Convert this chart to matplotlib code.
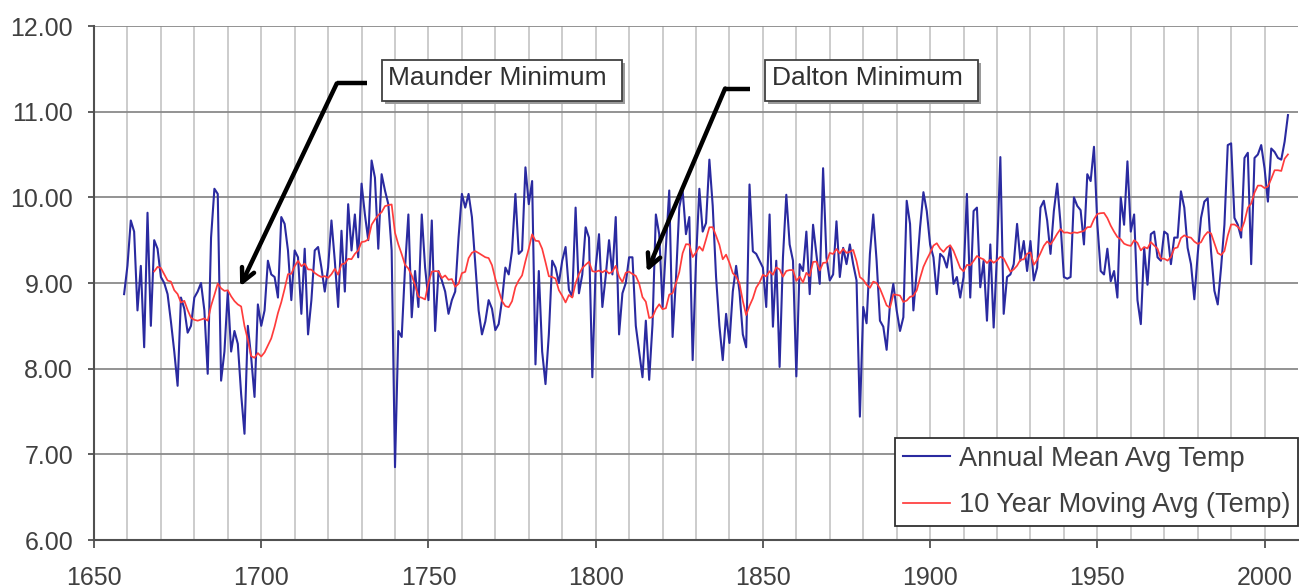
import numpy as np
import pandas as pd
import matplotlib
matplotlib.use("Agg")
import matplotlib.pyplot as plt
import matplotlib.transforms as mtransforms
from matplotlib.patches import Rectangle

plt.rcParams['font.family'] = ['Liberation Sans', 'DejaVu Sans']

# ---------------- data ----------------
first_year = 1659

temp_1659_1699 = [8.87, 9.2, 9.73, 9.6, 8.68, 9.2, 8.25, 9.82, 8.5, 9.5,
                  9.4, 9.07, 9.0, 8.87, 8.55, 8.2, 7.8, 8.83, 8.7, 8.42,
                  8.5, 8.83, 8.9, 9.0, 8.68, 7.94, 9.53, 10.1, 10.04, 7.86,
                  8.2, 8.9, 8.2, 8.44, 8.29, 7.7, 7.24, 8.5, 8.13, 7.67,
                  8.75]
temp_1700_1749 = [8.5, 8.68, 9.26, 9.1, 9.07, 8.83, 9.77, 9.69, 9.38, 8.8,
                  9.38, 9.3, 8.64, 9.4, 8.4, 8.8, 9.38, 9.42, 9.18, 8.9,
                  9.18, 9.73, 9.26, 8.72, 9.61, 8.9, 9.92, 9.38, 9.8, 9.3,
                  10.16, 9.8, 9.5, 10.43, 10.23, 9.4, 10.27, 10.08, 9.92, 9.38,
                  6.85, 8.44, 8.37, 9.18, 9.8, 8.6, 9.14, 8.72, 9.8, 9.18]
temp_1750_1799 = [8.8, 9.73, 8.44, 9.14, 9.03, 8.9, 8.64, 8.8, 8.9, 9.53,
                  10.04, 9.88, 10.04, 9.77, 9.22, 8.68, 8.4, 8.55, 8.8, 8.7,
                  8.45, 8.52, 8.8, 9.18, 9.1, 9.38, 10.04, 9.34, 9.38, 10.35,
                  9.92, 10.19, 8.05, 9.14, 8.2, 7.82, 8.4, 9.26, 9.18, 9.0,
                  9.26, 9.42, 8.92, 8.84, 9.88, 8.88, 9.1, 9.65, 9.53, 7.9]
temp_1800_1849 = [9.18, 9.57, 8.72, 9.08, 9.5, 9.1, 9.77, 8.4, 8.88, 9.0,
                  9.3, 9.3, 8.5, 8.2, 7.9, 8.56, 7.87, 8.52, 9.8, 9.57,
                  8.72, 9.42, 10.08, 8.37, 9.04, 9.88, 10.08, 9.57, 9.77, 8.1,
                  9.26, 10.1, 9.6, 9.7, 10.44, 9.9, 9.07, 8.5, 8.1, 8.64,
                  8.3, 8.9, 9.2, 8.9, 8.4, 8.25, 10.15, 9.37, 9.34, 9.26]
temp_1850_1899 = [9.18, 8.72, 9.8, 8.49, 9.26, 8.02, 9.3, 10.03, 9.45, 9.26,
                  7.91, 9.22, 9.14, 9.6, 8.87, 9.68, 9.34, 8.99, 10.34, 9.3,
                  9.03, 9.1, 9.72, 9.07, 9.41, 9.22, 9.45, 9.22, 9.03, 7.44,
                  8.72, 8.53, 9.34, 9.8, 9.26, 8.56, 8.49, 8.22, 8.75, 8.99,
                  8.68, 8.44, 8.6, 9.96, 9.69, 8.68, 9.14, 9.65, 10.06, 9.84]
temp_1900_1949 = [9.45, 9.3, 8.87, 9.34, 9.3, 9.18, 9.42, 8.99, 9.07, 8.83,
                  9.07, 10.04, 8.83, 9.84, 9.88, 8.95, 9.26, 8.56, 9.45, 8.48,
                  9.34, 10.47, 8.64, 9.07, 9.1, 9.22, 9.69, 9.26, 9.49, 9.14,
                  9.49, 9.03, 9.18, 9.88, 9.96, 9.73, 9.34, 9.84, 10.16, 9.69,
                  9.07, 9.05, 9.07, 10.0, 9.9, 9.85, 9.45, 10.27, 10.19, 10.59]
temp_1950_2007 = [9.69, 9.14, 9.1, 9.4, 9.02, 9.14, 8.83, 10.0, 9.68, 10.42,
                  9.6, 9.8, 8.8, 8.52, 9.41, 8.98, 9.57, 9.6, 9.3, 9.26,
                  9.6, 9.57, 9.22, 9.53, 9.53, 10.07, 9.88, 9.41, 9.22, 8.81,
                  9.33, 9.76, 9.95, 9.99, 9.37, 8.91, 8.75, 9.18, 9.68, 10.61,
                  10.63, 9.76, 9.68, 9.53, 10.46, 10.52, 9.22, 10.46, 10.5, 10.61,
                  10.34, 9.95, 10.57, 10.53, 10.46, 10.44, 10.65, 10.96]

window = 10
x_ticks = [1650, 1700, 1750, 1800, 1850, 1900, 1950, 2000]
y_ticks = [6, 7, 8, 9, 10, 11, 12]
legend_labels = ["Annual Mean Avg Temp", "10 Year Moving Avg (Temp)"]

# annotation: label, arrow tip (year, temp), elbow, end of horizontal, box x-range
annot_labels = ["Maunder Minimum", "Dalton Minimum"]
annot_tips = [(1693.7, 8.96), (1815.3, 9.13)]
annot_elbows = [(1722.6, 11.33), (1838.7, 11.27)]
annot_hend = [1731.6, 1846.2]
annot_box_x = [(1736.0, 1807.9), (1850.7, 1914.3)]

temps = np.array(temp_1659_1699 + temp_1700_1749 + temp_1750_1799 +
                 temp_1800_1849 + temp_1850_1899 + temp_1900_1949 + temp_1950_2007)
years = np.arange(first_year, first_year + len(temps))
ma = pd.Series(temps, index=years).rolling(window).mean()

# ---------------- figure ----------------
fig = plt.figure(figsize=(12.99, 5.88), dpi=100)
ax = fig.add_axes([94 / 1299, 48 / 588, 1204 / 1299, 514 / 588])

ax.set_xlim(1650, 2010)
ax.set_ylim(6, 12)

ax.plot(years, temps, color='#2a2aa0', lw=1.5, zorder=3, label=legend_labels[0])
ax.plot(ma.index, ma.values, color='#ff3c3c', lw=1.25, zorder=4, label=legend_labels[1])

ax.set_xticks(x_ticks)
ax.set_xticks(np.arange(1660, 2010, 10), minor=True)
ax.set_yticks(y_ticks)
ax.set_yticklabels([f"{v:.2f}" for v in y_ticks])

ax.grid(axis='x', which='both', color='#c8c8c8', lw=1.3, zorder=0)
ax.grid(axis='y', which='major', color='#8a8a8a', lw=1.3, zorder=0)
ax.set_axisbelow(True)

for s in ['top', 'right']:
    ax.spines[s].set_visible(False)
for s in ['left', 'bottom']:
    ax.spines[s].set_color('#505050')
    ax.spines[s].set_linewidth(1.5)

ax.tick_params(axis='x', which='major', direction='out', length=6, width=1.3,
               color='#505050', pad=13, labelsize=18, labelcolor='#404040')
ax.tick_params(axis='x', which='minor', length=0)
ax.tick_params(axis='y', which='major', direction='out', length=4, width=1.3,
               color='#505050', pad=11, labelsize=18, labelcolor='#404040')

# annotations
shadow = mtransforms.offset_copy(ax.transData, fig=fig, x=3, y=-3, units='dots')
box_top, box_bot = 11.60, 11.13
for lab, tip, elb, hend, (bx0, bx1) in zip(annot_labels, annot_tips, annot_elbows,
                                          annot_hend, annot_box_x):
    ax.plot([elb[0], hend], [elb[1], elb[1]], color='black', lw=3.2,
            solid_capstyle='butt', zorder=6)
    ax.annotate('', xy=tip, xytext=elb,
                arrowprops=dict(arrowstyle='->', lw=3.2, color='black',
                                mutation_scale=24, shrinkA=0, shrinkB=0),
                zorder=6)
    ax.add_patch(Rectangle((bx0, box_bot), bx1 - bx0, box_top - box_bot,
                           transform=shadow, fc='#9a9a9a', ec='none', zorder=6))
    ax.add_patch(Rectangle((bx0, box_bot), bx1 - bx0, box_top - box_bot,
                           fc='white', ec='#404040', lw=1.3, zorder=7))
    ax.text(bx0 + 1.9, (box_top + box_bot) / 2 + 0.03, lab, fontsize=19,
            color='#303030', ha='left', va='center', zorder=8)

leg = ax.legend(loc='lower right', bbox_to_anchor=(1.0, 0.027), borderaxespad=0,
                fontsize=19.5, frameon=True, fancybox=False, framealpha=1,
                edgecolor='#303030', handlelength=1.75, handletextpad=0.3,
                labelspacing=0.75, borderpad=0.3)
leg.get_frame().set_linewidth(1.3)
for t in leg.get_texts():
    t.set_color('#404040')

fig.savefig('out.png', dpi=100)
